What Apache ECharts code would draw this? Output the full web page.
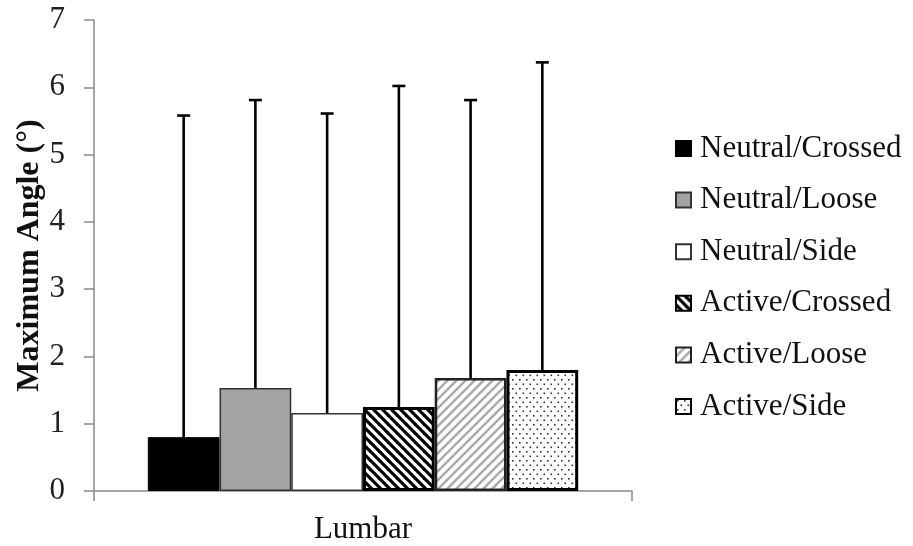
<!DOCTYPE html>
<html>
<head>
<meta charset="utf-8">
<script src="https://cdn.jsdelivr.net/npm/echarts@6/dist/echarts.min.js"></script>
<style>
  html, body { margin: 0; padding: 0; background: #fff; }
  #chart { width: 913px; height: 546px; }
</style>
</head>
<body>
<div id="chart"></div>
<script>
// Lumbar maximum angle by condition: mean with upward SD whisker
const categories = ['Lumbar'];
const seriesNames = ['Neutral/Crossed', 'Neutral/Loose', 'Neutral/Side',
                     'Active/Crossed', 'Active/Loose', 'Active/Side'];
const meanValues = [0.80, 1.53, 1.16, 1.25, 1.68, 1.80];
const sdValues = [4.78, 4.28, 4.45, 4.77, 4.13, 4.57];
const yTicks = [0, 1, 2, 3, 4, 5, 6, 7];

const FONT = '"Liberation Serif", "Times New Roman", serif';

// Tiled fill patterns
function stripes(period, width, color, backslash) {
  const c = document.createElement('canvas');
  c.width = period; c.height = period;
  const g = c.getContext('2d');
  g.fillStyle = '#fff';
  g.fillRect(0, 0, period, period);
  g.strokeStyle = color;
  g.lineWidth = width;
  g.lineCap = 'square';
  for (const k of [-period, 0, period]) {
    g.beginPath();
    if (backslash) { g.moveTo(k, 0); g.lineTo(k + period, period); }
    else { g.moveTo(k, period); g.lineTo(k + period, 0); }
    g.stroke();
  }
  return c;
}
function dots(w, h, color) {
  const c = document.createElement('canvas');
  c.width = w; c.height = h;
  const g = c.getContext('2d');
  g.fillStyle = '#fff';
  g.fillRect(0, 0, w, h);
  g.fillStyle = color;
  g.fillRect(1, 1, 1.6, 1.6);
  g.fillRect(1 + w / 2, 1 + h / 2, 1.6, 1.6);
  return c;
}

const styles = [
  { color: '#000000', borderColor: '#000', borderWidth: 1 },
  { color: '#a3a3a3', borderColor: '#333', borderWidth: 1.5 },
  { color: '#ffffff', borderColor: '#333', borderWidth: 1.5 },
  { color: { image: stripes(9, 3.2, '#000', true), repeat: 'repeat' }, borderColor: '#000', borderWidth: 3 },
  { color: { image: stripes(9, 2.4, '#aaaaaa', false), repeat: 'repeat' }, borderColor: '#222', borderWidth: 2.5 },
  { color: { image: dots(7, 9, '#333'), repeat: 'repeat' }, borderColor: '#000', borderWidth: 3 }
];

const CAT_GAP = 0.2;
const barSeries = seriesNames.map((name, i) => ({
  name: name,
  type: 'bar',
  data: [meanValues[i]],
  barGap: '0%',
  barCategoryGap: (CAT_GAP * 100) + '%',
  itemStyle: styles[i],
  emphasis: { disabled: true },
  z: 2
}));

// Upward error whiskers, positioned on each bar's slot within the category
const errData = meanValues.map((m, i) => [0, m, sdValues[i], i]);
const errSeries = {
  type: 'custom',
  name: 'sd',
  data: errData,
  encode: { x: 0, y: 1 },
  z: 5,
  silent: true,
  renderItem: function (params, api) {
    const cat = api.value(0);
    const mean = api.value(1);
    const err = api.value(2);
    const idx = api.value(3);
    const catW = api.size([1, 0])[0];
    const groupW = catW * (1 - CAT_GAP);
    const bw = groupW / seriesNames.length;
    const cx = api.coord([cat, 0])[0] - groupW / 2 + bw * (idx + 0.5);
    const yBot = api.coord([cat, mean])[1];
    const yTop = api.coord([cat, mean + err])[1];
    const lineStyle = { stroke: '#000', lineWidth: 2.6 };
    return {
      type: 'group',
      children: [
        { type: 'line', shape: { x1: cx, y1: yBot, x2: cx, y2: yTop }, style: lineStyle },
        { type: 'line', shape: { x1: cx - 6.5, y1: yTop, x2: cx + 6.5, y2: yTop }, style: lineStyle }
      ]
    };
  }
};

const chart = echarts.init(document.getElementById('chart'), null, { renderer: 'canvas' });
chart.setOption({
  animation: false,
  backgroundColor: '#fff',
  textStyle: { fontFamily: FONT },
  grid: { left: 94, right: 281, top: 20, bottom: 55, containLabel: false },
  legend: {
    data: seriesNames,
    orient: 'vertical',
    left: 675,
    top: 133,
    padding: 0,
    itemWidth: 15,
    itemHeight: 15,
    itemGap: 20.6,
    icon: 'rect',
    selectedMode: false,
    textStyle: { fontFamily: FONT, fontSize: 31, color: '#111', lineHeight: 30, padding: [0, 0, 0, 4] }
  },
  xAxis: {
    type: 'category',
    data: categories,
    axisLine: { lineStyle: { color: '#8a8a8a', width: 1.5 } },
    axisTick: { show: true, length: 10, lineStyle: { color: '#8a8a8a', width: 1.5 } },
    axisLabel: { fontFamily: FONT, fontSize: 31, color: '#111', margin: 23 }
  },
  yAxis: {
    type: 'value',
    min: yTicks[0],
    max: yTicks[yTicks.length - 1],
    interval: 1,
    name: 'Maximum Angle (°)',
    nameLocation: 'middle',
    nameGap: 48,
    nameMoveOverlap: false,
    nameTextStyle: { fontFamily: FONT, fontSize: 32, fontWeight: 'bold', color: '#111' },
    splitLine: { show: false },
    axisLine: { show: true, lineStyle: { color: '#8a8a8a', width: 1.5 } },
    axisTick: { show: true, length: 10, lineStyle: { color: '#8a8a8a', width: 1.5 } },
    axisLabel: { fontFamily: FONT, fontSize: 31, color: '#222', margin: 29 }
  },
  series: barSeries.concat([errSeries])
});
</script>
</body>
</html>
